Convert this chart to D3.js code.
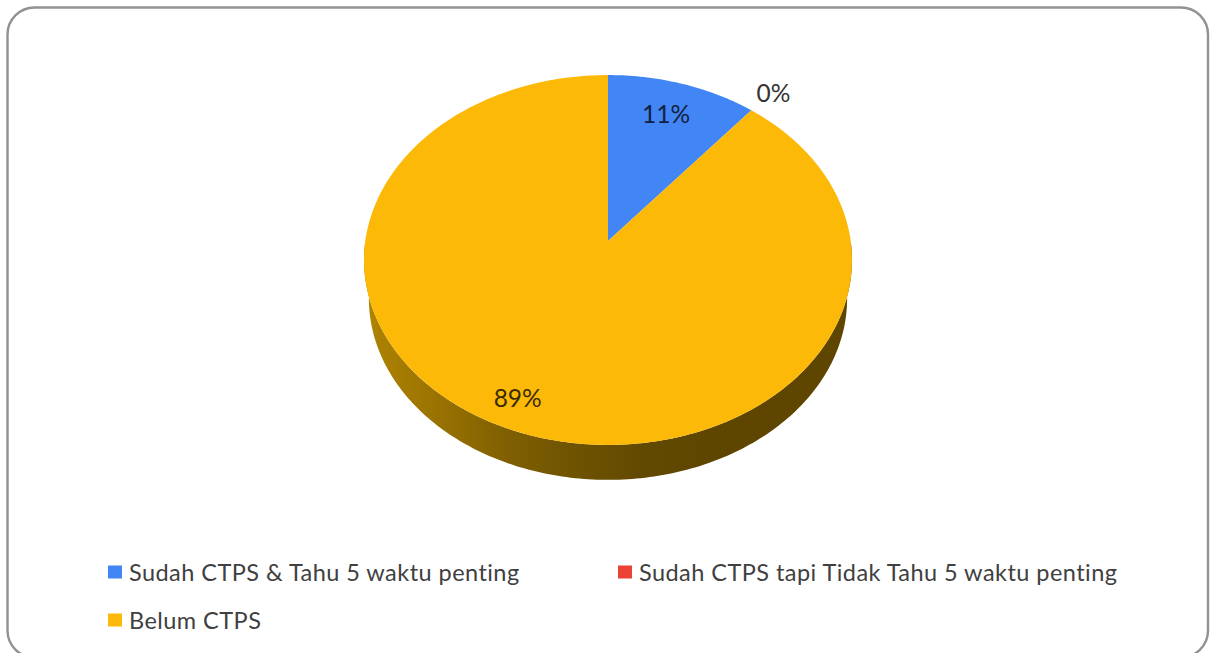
<!DOCTYPE html>
<html>
<head>
<meta charset="utf-8">
<script src="https://cdn.jsdelivr.net/npm/d3@7"></script>
<style>
  html, body { margin: 0; padding: 0; background: #fff; overflow: hidden; }
  text { font-family: Lato, "Noto Sans", sans-serif; }
</style>
</head>
<body>
<svg id="chart" width="1215" height="653"></svg>
<script>
var categories = ["Sudah CTPS & Tahu 5 waktu penting", "Sudah CTPS tapi Tidak Tahu 5 waktu penting", "Belum CTPS"];
var values = [11, 0, 89];
var colors = ["#4285f4", "#ea4335", "#fdb907"];
var wallStops = ["#b08402", "#9a7301", "#806001", "#6f5301", "#624901", "#5e4601", "#5e4601", "#5e4601"];

var width = 1215, height = 653;
var svg = d3.select("#chart");

// pie is tilted: the centre sits above the middle of the ellipse, so use a perspective map
var apex = [608, 241];
var radiusX = 242.7, radiusY = 183, tilt = 0.1027;
var wallDrop = 39, wallScale = 0.98;

function project(angle, r, drop, scale) {
  var u = r * Math.sin(angle), v = r * Math.cos(angle);
  var den = 1 + tilt * v;
  return [apex[0] + scale * radiusX * u / den, apex[1] + drop - scale * radiusY * v / den];
}

function sampleArc(a0, a1, drop, scale) {
  var n = Math.max(2, Math.ceil(Math.abs(a1 - a0) * 60));
  return d3.range(n + 1).map(function(i) {
    return project(a0 + (a1 - a0) * i / n, 1, drop, scale);
  });
}

var line = d3.line();

var defs = svg.append("defs");
var wallGrad = defs.append("linearGradient")
    .attr("id", "wallGrad")
    .attr("gradientUnits", "userSpaceOnUse")
    .attr("x1", apex[0] - radiusX).attr("x2", apex[0] + radiusX)
    .attr("y1", 0).attr("y2", 0);
wallGrad.selectAll("stop")
    .data(wallStops)
    .enter()
    .append("stop")
    .attr("offset", function(d, i) { return i / (wallStops.length - 1); })
    .attr("stop-color", function(d) { return d; });

// frame
svg.append("rect")
    .attr("x", 7.5).attr("y", 7.5)
    .attr("width", 1200.5).attr("height", 650)
    .attr("rx", 27).attr("ry", 27)
    .attr("fill", "#fff")
    .attr("stroke", "#929292")
    .attr("stroke-width", 2.4);

// side wall, only the front half shows
var edge = Math.PI / 2;
var wallPts = sampleArc(edge, Math.PI * 2 - edge, wallDrop, wallScale)
    .concat(sampleArc(Math.PI * 2 - edge, edge, 0, 1));
svg.append("path")
    .attr("d", line(wallPts) + "Z")
    .attr("fill", "url(#wallGrad)");

// top face
var pie = d3.pie().sort(null).value(function(d) { return d; });
var arcs = pie(values);

svg.append("g")
    .selectAll("path")
    .data(arcs)
    .enter()
    .append("path")
    .attr("d", function(d) {
      return line([apex].concat(sampleArc(d.startAngle, d.endAngle, 0, 1))) + "Z";
    })
    .attr("fill", function(d, i) { return colors[i]; });

// data labels, nudged by hand like in the original
var labelOffsets = [[10, -27], [5, -2], [-20, 9]];
var labelRadius = [0.62, 1.13, 0.79];
function labelPos(d, i) {
  var p = project((d.startAngle + d.endAngle) / 2, labelRadius[i], 0, 1);
  return [p[0] + labelOffsets[i][0], p[1] + labelOffsets[i][1]];
}
svg.append("g")
    .selectAll("text")
    .data(arcs)
    .enter()
    .append("text")
    .text(function(d) { return d.data + "%"; })
    .attr("x", function(d, i) { return labelPos(d, i)[0]; })
    .attr("y", function(d, i) { return labelPos(d, i)[1]; })
    .attr("text-anchor", "middle")
    .attr("dominant-baseline", "central")
    .attr("fill", function(d, i) { return i == 0 ? "#12213f" : i == 1 ? "#333" : "#3a2c05"; })
    .style("font-size", "24.5px");

// legend
var legendPos = [[108, 572], [618, 572], [108, 620]];
var legend = svg.append("g")
    .selectAll("g")
    .data(categories)
    .enter()
    .append("g")
    .attr("transform", function(d, i) { return "translate(" + legendPos[i] + ")"; });
legend.append("rect")
    .attr("x", 0).attr("y", -6.5)
    .attr("width", 14).attr("height", 13)
    .attr("fill", function(d, i) { return colors[i]; });
legend.append("text")
    .text(function(d) { return d; })
    .attr("x", 21)
    .attr("dominant-baseline", "central")
    .attr("fill", "#404040")
    .style("letter-spacing", "0.45px")
    .style("font-size", "23.5px");
</script>
</body>
</html>
